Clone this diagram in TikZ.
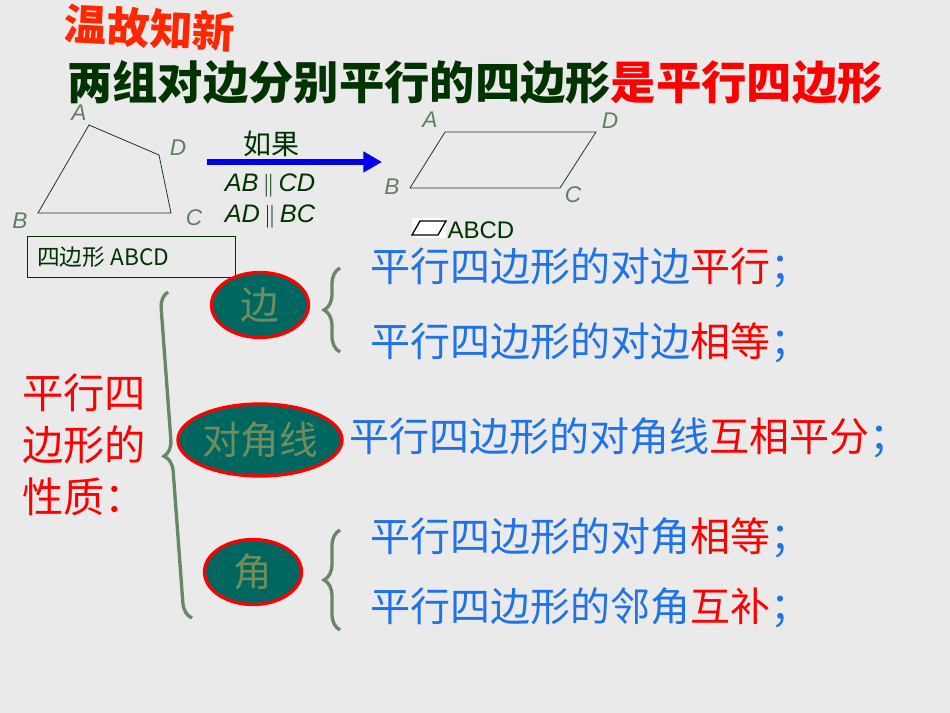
\documentclass[tikz,border=0pt]{standalone}
\usepackage{fontspec}
\setmainfont{Liberation Sans}
\newfontfamily\cjk{Noto Sans CJK SC}
\newfontfamily\cjkb{Noto Sans CJK SC Black}
\usetikzlibrary{shapes.geometric,arrows.meta,decorations.pathreplacing}
\definecolor{bg}{HTML}{EAEAEA}
\definecolor{dg}{HTML}{003300}
\definecolor{lg}{HTML}{5F7F5F}
\definecolor{bl}{HTML}{1F72E8}
\definecolor{rd}{HTML}{FF0000}
\definecolor{tl}{HTML}{006660}
\definecolor{tt}{HTML}{6E8E5E}
\definecolor{br}{HTML}{668866}
\tikzset{lbl/.style={text=lg,font=\itshape\fontsize{17}{17}\selectfont,inner sep=1pt},
prop/.style={anchor=west,text=bl,font=\cjk\fontsize{30}{30}\selectfont},
ell/.style={ellipse,draw=rd,line width=2.5pt,fill=tl,text=tt,font=\cjk\fontsize{29}{29}\selectfont,inner sep=0pt},
brc/.style={draw=br,line width=2.5pt,decorate,decoration={brace,amplitude=12pt}},
quad/.style={draw=dg!80!lg,line width=0.6pt}}
\begin{document}
\begin{tikzpicture}[x=0.75pt,y=-0.75pt]
\useasboundingbox (0,0) rectangle (950,713);
\clip (0,0) rectangle (950,713);
\fill[bg] (0,0) rectangle (950,713);
\node[text=rd!70!orange,font=\cjkb\fontsize{32}{32}\selectfont,rotate=-3,inner sep=0pt] (t1) at (150,28) {温故知新};
\node[font=\cjkb\fontsize{34}{34}\selectfont,inner sep=0pt] (t2) at (475,82) {\textcolor{dg}{两组对边分别平行的四边形}\textcolor{rd}{是平行四边形}};
% quadrilateral
\coordinate (qa) at (89,125); \coordinate (qd) at (159,155);
\coordinate (qc) at (171,213); \coordinate (qb) at (38,213);
\draw[quad] (qa)--(qd)--(qc)--(qb)--cycle;
\node[lbl] (la) at (79,113) {A};
\node[lbl] (ld) at (178,148) {D};
\node[lbl] (lc) at (194,218) {C};
\node[lbl] (lb) at (20,221) {B};
\draw[dg,line width=0.6pt] (27,236) rectangle (235,277);
\node[anchor=west,text=dg,font=\cjk\fontsize{17}{17}\selectfont,inner sep=0pt] (box) at (37,257) {四边形 ABCD};
% arrow
\coordinate (ar1) at (207,162); \coordinate (ar2) at (382,162);
\draw[blue!90!black,line width=5pt,-{Triangle[length=14pt,width=15pt]}] (ar1)--(ar2);
\node[text=dg,font=\cjk\fontsize{21}{21}\selectfont] (rg) at (271,144) {如果};
\node[text=dg,font=\itshape\fontsize{19}{19}\selectfont] (c1) at (270,186) {AB\,$\|$\,CD};
\node[text=dg,font=\itshape\fontsize{19}{19}\selectfont] (c2) at (270,217) {AD\,$\|$\,BC};
% parallelogram
\coordinate (pa) at (445,132); \coordinate (pd) at (596,132);
\coordinate (pc) at (560,188); \coordinate (pb) at (410,188);
\draw[quad] (pa)--(pd)--(pc)--(pb)--cycle;
\node[lbl] (pla) at (430,120) {A};
\node[lbl] (pld) at (610,121) {D};
\node[lbl] (plc) at (573,195) {C};
\node[lbl] (plb) at (392,187) {B};
\fill[white] (412,218) rectangle (446,238);
\draw[black,line width=1pt] (420,221)--(446,221)--(438,235)--(412,235)--cycle;
\node[anchor=west,text=dg,font=\fontsize{18}{18}\selectfont,inner sep=1pt] (pn) at (446,230) {ABCD};
% left label
\node[text=rd,font=\cjk\fontsize{31}{39}\selectfont,align=left] (pp) at (84,445) {平行四\\边形的\\性质：};
\draw[brc] (192,618)--(168,292);
\node[ell,minimum width=97*0.75pt,minimum height=65*0.75pt] (e1) at (260,305) {边};
\node[ell,minimum width=125*0.75pt,minimum height=72*0.75pt] (e2) at (260,440) {对角线};
\node[ell,minimum width=97*0.75pt,minimum height=65*0.75pt] (e3) at (253,572) {角};
\draw[brc] (340,352)--(340,268);
\draw[brc] (340,630)--(340,530);
\node[prop] (s1) at (366,268) {平行四边形的对边\textcolor{rd}{平行}；};
\node[prop] (s2) at (366,343) {平行四边形的对边\textcolor{rd}{相等}；};
\node[prop] (s3) at (345,438) {平行四边形的对角线\textcolor{rd}{互相平分}；};
\node[prop] (s4) at (366,538) {平行四边形的对角\textcolor{rd}{相等}；};
\node[prop] (s5) at (366,608) {平行四边形的邻角\textcolor{rd}{互补}；};
\end{tikzpicture}
\end{document}
